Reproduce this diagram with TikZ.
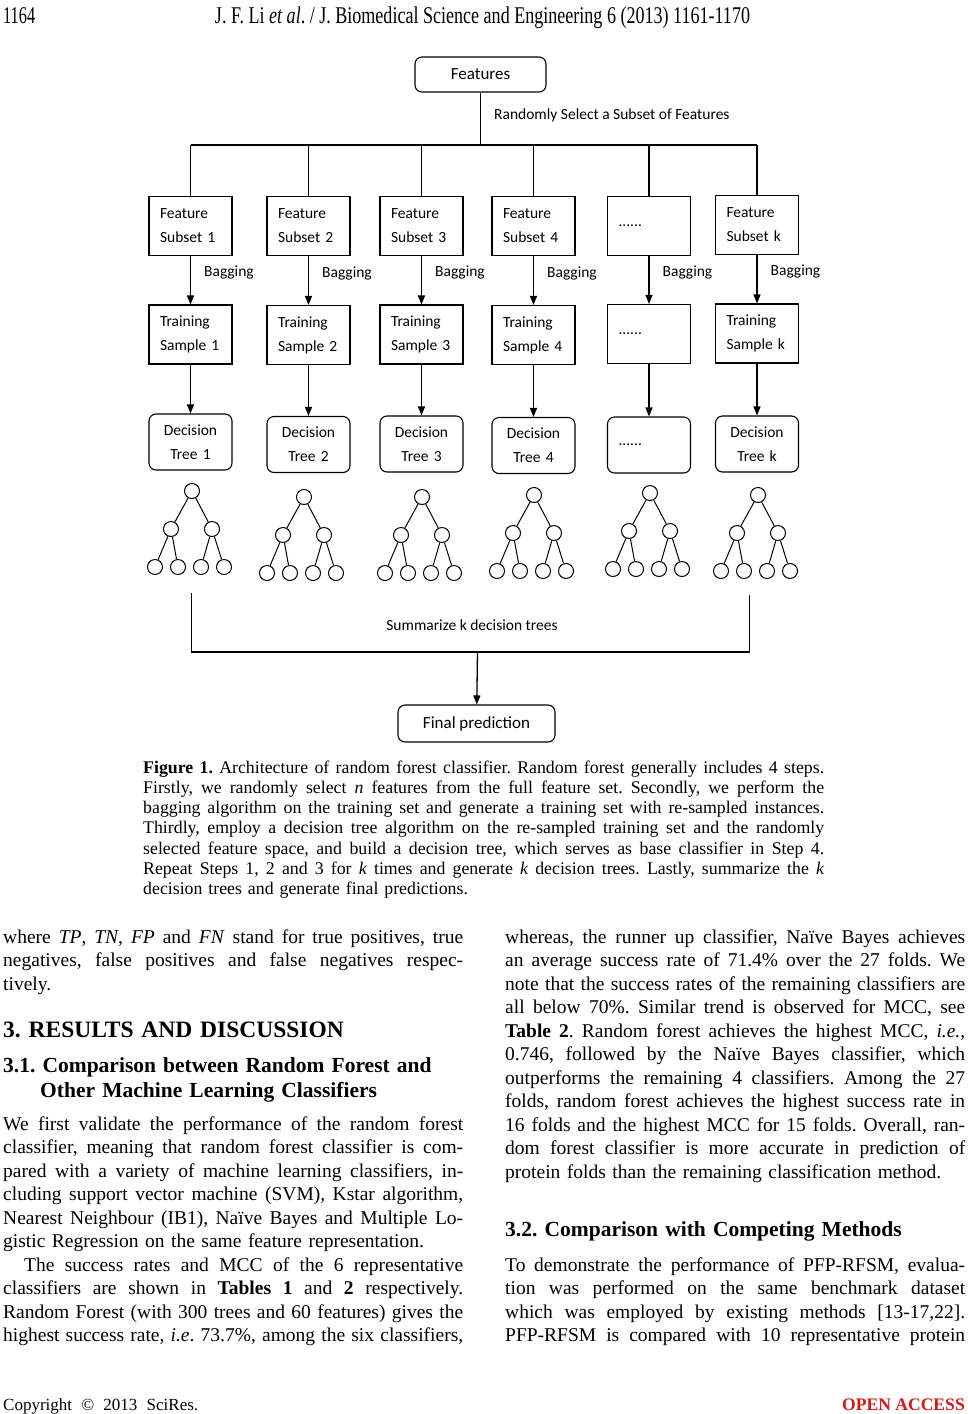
\documentclass[tikz,border=0pt]{standalone}
\usepackage{fontspec}
\setmainfont{Liberation Serif}
\newfontfamily\calib{Carlito}
\usepackage{graphicx}
\usetikzlibrary{arrows.meta,positioning}
\definecolor{oared}{RGB}{214,24,24}
\newcommand\jl[1]{\leavevmode\hbox to 460pt{\spaceskip=0.25em plus 2em minus 0.05em\relax #1}}
\newcommand\cj[1]{\leavevmode\hbox to 681pt{\spaceskip=0.25em plus 2em minus 0.05em\relax #1}}
\frenchspacing

\begin{document}
\begin{tikzpicture}[x=1pt,y=-1pt,>={Triangle[length=9pt,width=7pt]},
  boxtext/.style={font=\calib\fontsize{15.5}{24}\selectfont},
  sqbox/.style={draw,line width=1.1pt,minimum width=83pt,minimum height=59pt,text width=61pt,inner xsep=11pt,align=left,boxtext},
  rdbox/.style={sqbox,rounded corners=7pt,minimum height=56pt,align=center},
  endbox/.style={draw,line width=1.1pt,rounded corners=7pt,font=\calib\fontsize{17}{20}\selectfont},
  leaf/.style={draw,circle,line width=1pt,minimum size=15pt,inner sep=0pt},
  lbl/.style={boxtext,inner sep=0pt},
  link/.style={line width=1.3pt},
  body/.style={text width=460pt,align=left,inner sep=0pt,anchor=base west,font=\fontsize{19.5}{23.5}\selectfont},
  capt/.style={text width=681pt,align=left,inner sep=0pt,anchor=base west,font=\fontsize{17.8}{20.3}\selectfont},
  subhead/.style={body,font=\bfseries\fontsize{21.5}{25}\selectfont}]
\useasboundingbox (0,0) rectangle (968,1414);
\fill[white] (0,0) rectangle (968,1414);

% running head
\node[anchor=base west,inner sep=0pt] (pgno) at (3,23) {\resizebox{32pt}{\height}{\fontsize{24}{24}\selectfont 1164}};
\node[anchor=base,inner sep=0pt] (runhd) at (482.5,23) {\resizebox{535pt}{\height}{\fontsize{24}{24}\selectfont J. F. Li \textit{et al}. / J. Biomedical Science and Engineering 6 (2013) 1161-1170}};

% diagram
\node[endbox,minimum width=131pt,minimum height=35pt] (feat) at (480.5,74.5) {Features};
\coordinate (split) at (480.5,145);
\node[lbl,anchor=west] (rand) at (494,115) {Randomly Select a Subset of Features};

\node[sqbox] (s1) at (190.5,226) {Feature\\Subset 1};
\node[sqbox] (s2) at (308.5,226) {Feature\\Subset 2};
\node[sqbox] (s3) at (421.5,226) {Feature\\Subset 3};
\node[sqbox] (s4) at (533.5,226) {Feature\\Subset 4};
\node[sqbox] (s5) at (649,226) {......};
\node[sqbox] (sk) at (757,225) {Feature\\Subset k};

\node[sqbox] (t1) at (190.5,334.5) {Training\\Sample 1};
\node[sqbox] (t2) at (308.5,335) {Training\\Sample 2};
\node[sqbox] (t3) at (421.5,334.5) {Training\\Sample 3};
\node[sqbox] (t4) at (533.5,335) {Training\\Sample 4};
\node[sqbox] (t5) at (649,334) {......};
\node[sqbox] (tk) at (757,333.5) {Training\\Sample k};

\node[rdbox] (d1) at (190.5,442) {Decision\\Tree 1};
\node[rdbox] (d2) at (308.5,444.5) {Decision\\Tree 2};
\node[rdbox] (d3) at (421.5,444) {Decision\\Tree 3};
\node[rdbox] (d4) at (533.5,445.5) {Decision\\Tree 4};
\node[rdbox,align=left] (d5) at (649,445) {......};
\node[rdbox] (dk) at (757,444) {Decision\\Tree k};

\draw[link] (feat) -- (split);
\draw[link] (s1.north |- split) -- (sk.north |- split);
\foreach \i in {1,2,3,4,5,k} {
  \draw[link] (s\i.north |- split) -- (s\i.north);
  \draw[link,->] (s\i) -- node[lbl,anchor=west,pos=0.35,xshift=13pt] {Bagging} (t\i);
  \draw[link,->] (t\i) -- (d\i);
}

% small trees
\foreach \i/\x/\y in {1/192/491,2/304/497,3/422/497,4/534/495,5/650/493,k/758/495} {
  \node[leaf] (r\i) at (\x,\y) {};
  \node[leaf] (cl\i) at (\x-21,\y+38) {};
  \node[leaf] (cr\i) at (\x+20,\y+38) {};
  \node[leaf] (la\i) at (\x-37,\y+76) {};
  \node[leaf] (lb\i) at (\x-14,\y+76) {};
  \node[leaf] (lc\i) at (\x+9,\y+76) {};
  \node[leaf] (ld\i) at (\x+32,\y+76) {};
  \draw[line width=1pt] (r\i) -- (cl\i) (r\i) -- (cr\i) (cl\i) -- (la\i) (cl\i) -- (lb\i) (cr\i) -- (lc\i) (cr\i) -- (ld\i);
}

\coordinate (sumL) at (191.5,593);
\coordinate (sumR) at (749.5,595);
\coordinate (sumB) at (477.5,652);
\draw[link] (sumL) -- (sumL |- sumB) -- (sumR |- sumB) -- (sumR);
\node[lbl] (summ) at (472,625) {Summarize k decision trees};
\node[endbox,minimum width=157pt,minimum height=37pt] (fin) at (476.5,723.5) {Final prediction};
\draw[link,->] (sumB) -- (fin);

% caption
\node[capt] (capt) at (143,773) {\cj{\textbf{Figure 1.} Architecture of random forest classifier. Random forest generally includes 4 steps.}\\
\cj{Firstly, we randomly select \textit{n} features from the full feature set. Secondly, we perform the}\\
\cj{bagging algorithm on the training set and generate a training set with re-sampled instances.}\\
\cj{Thirdly, employ a decision tree algorithm on the re-sampled training set and the randomly}\\
\cj{selected feature space, and build a decision tree, which serves as base classifier in Step 4.}\\
\cj{Repeat Steps 1, 2 and 3 for \textit{k} times and generate \textit{k} decision trees. Lastly, summarize the \textit{k}}\\
decision trees and generate final predictions.};

% left column
\node[body] (para1) at (3,943) {\jl{where \textit{TP}, \textit{TN}, \textit{FP} and \textit{FN} stand for true positives, true}\\
\jl{negatives, false positives and false negatives respec-}\\
tively.};
\node[body,font=\bfseries\fontsize{23.5}{25}\selectfont] (sec3) at (3,1037) {3. RESULTS AND DISCUSSION};
\node[subhead] (sec31) at (3,1072) {3.1. Comparison between Random Forest and\\
\hspace*{37pt}Other Machine Learning Classifiers};
\node[body] (para2) at (3,1130) {\jl{We first validate the performance of the random forest}\\
\jl{classifier, meaning that random forest classifier is com-}\\
\jl{pared with a variety of machine learning classifiers, in-}\\
\jl{cluding support vector machine (SVM), Kstar algorithm,}\\
\jl{Nearest Neighbour (IB1), Naïve Bayes and Multiple Lo-}\\
gistic Regression on the same feature representation.\\
\jl{\hspace*{21pt}The success rates and MCC of the 6 representative}\\
\jl{classifiers are shown in \textbf{Tables 1} and \textbf{2} respectively.}\\
\jl{Random Forest (with 300 trees and 60 features) gives the}\\
\jl{highest success rate, \textit{i.e}. 73.7\%, among the six classifiers,}};

% right column
\node[body] (para3) at (505,943) {\jl{whereas, the runner up classifier, Naïve Bayes achieves}\\
\jl{an average success rate of 71.4\% over the 27 folds. We}\\
\jl{note that the success rates of the remaining classifiers are}\\
\jl{all below 70\%. Similar trend is observed for MCC, see}\\
\jl{\textbf{Table 2}. Random forest achieves the highest MCC, \textit{i.e.},}\\
\jl{0.746, followed by the Naïve Bayes classifier, which}\\
\jl{outperforms the remaining 4 classifiers. Among the 27}\\
\jl{folds, random forest achieves the highest success rate in}\\
\jl{16 folds and the highest MCC for 15 folds. Overall, ran-}\\
\jl{dom forest classifier is more accurate in prediction of}\\
protein folds than the remaining classification method.};
\node[subhead] (sec32) at (505,1236) {3.2. Comparison with Competing Methods};
\node[body] (para4) at (505,1271) {\jl{To demonstrate the performance of PFP-RFSM, evalua-}\\
\jl{tion was performed on the same benchmark dataset}\\
\jl{which was employed by existing methods [13-17,22].}\\
\jl{PFP-RFSM is compared with 10 representative protein}};

% footer
\node[anchor=base west,inner sep=0pt,font=\fontsize{17}{17}\selectfont] (copyr) at (3,1410) {\makebox[195pt][s]{Copyright © 2013 SciRes.}};
\node[anchor=base east,inner sep=0pt,font=\bfseries\fontsize{17.6}{18}\selectfont,text=oared] (oa) at (965,1410) {OPEN ACCESS};
\end{tikzpicture}
\end{document}
